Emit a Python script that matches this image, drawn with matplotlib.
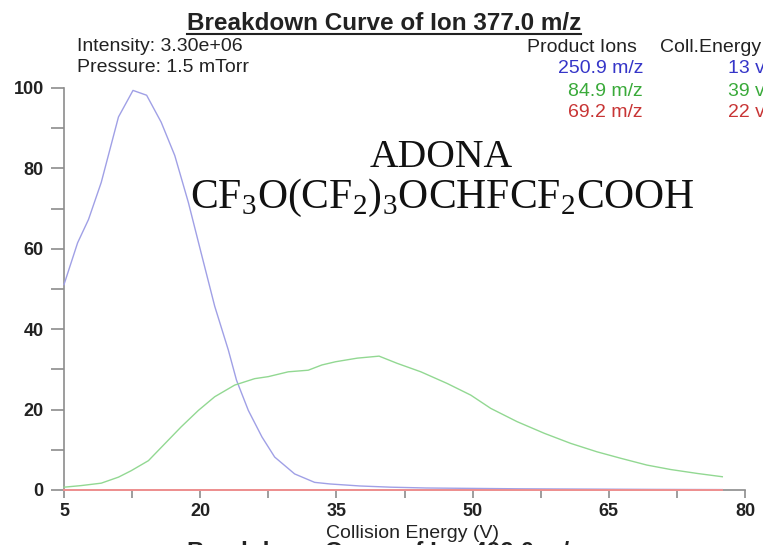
import numpy as np
import matplotlib
matplotlib.use('Agg')
from matplotlib import pyplot as plt
from matplotlib.lines import Line2D

plt.rcParams['font.family'] = ['Liberation Sans', 'DejaVu Sans']
plt.rcParams['mathtext.fontset'] = 'custom'
plt.rcParams['mathtext.rm'] = 'Liberation Serif'

# dados ---------------------------------------------------------

blue_ce = [5, 6.5, 7.7, 9.1, 11.0, 12.6, 14.1, 15.7, 17.2, 18.7, 20.1, 21.6, 23.1,
           24.0, 25.3, 26.8, 28.2, 30.4, 32.6, 34.3, 37.6, 41, 44.9, 50, 55, 60,
           65, 70, 77.5]
blue_int = [51.1, 61.5, 67.3, 76.5, 92.8, 99.4, 98.2, 91.5, 83.2, 71.5, 59.0, 45.7,
            34.8, 27.3, 19.8, 13.2, 8.2, 4.0, 1.9, 1.5, 1.0, 0.7, 0.5, 0.4, 0.3,
            0.25, 0.2, 0.15, 0.1]

green_ce = [5, 6.9, 9.1, 11.0, 12.4, 14.3, 16.1, 17.9, 19.8, 21.6, 23.8, 26.0, 27.5,
            29.7, 31.9, 33.4, 34.9, 37.3, 39.7, 41.7, 44.3, 47.2, 49.8, 52.0, 54.9,
            57.9, 60.8, 63.7, 66.3, 69.2, 71.8, 74.8, 77.5]
green_int = [0.7, 1.1, 1.7, 3.2, 4.8, 7.3, 11.5, 15.7, 19.8, 23.2, 26.1, 27.7, 28.2,
             29.4, 29.8, 31.1, 31.9, 32.8, 33.3, 31.5, 29.4, 26.5, 23.6, 20.3, 17.0,
             14.1, 11.6, 9.5, 7.9, 6.2, 5.1, 4.1, 3.3]

red_ce = [5, 77.5]
red_int = [0, 0]

ions = ['250.9 m/z', '84.9 m/z', '69.2 m/z']
energies = ['13 v', '39 v', '22 v']
line_colors = ['#a0a0e6', '#92d892', '#f09090']
text_colors = ['#3535c8', '#3aaa3a', '#c83535']

xticks = [5, 20, 35, 50, 65, 80]
yticks = [0, 20, 40, 60, 80, 100]

# figura ----------------------------------------

fig = plt.figure(figsize=(7.63, 5.45), dpi=100)
ax = fig.add_axes([64/763, 1 - 490/545, (745-64)/763, (490-88)/545])

ax.plot(blue_ce, blue_int, color=line_colors[0], lw=1.0, clip_on=False, zorder=3)
ax.plot(green_ce, green_int, color=line_colors[1], lw=1.0, clip_on=False, zorder=3)
ax.plot(red_ce, red_int, color=line_colors[2], lw=1.4, clip_on=False, zorder=4)

ax.set_xlim(5, 80)
ax.set_ylim(0, 100)
ax.set_xticks(xticks)
ax.set_xticks(np.arange(12.5, 80, 15), minor=True)
ax.set_yticks(yticks)
ax.set_yticks(np.arange(10, 100, 20), minor=True)

for s in ['top', 'right']:
    ax.spines[s].set_visible(False)
for s in ['left', 'bottom']:
    ax.spines[s].set_color('#8c8c8c')
    ax.spines[s].set_linewidth(1.2)

ax.tick_params(axis='both', which='both', colors='#8c8c8c', width=1.2,
               labelcolor='#222222', labelsize=13)
ax.tick_params(axis='y', which='both', length=9.5, pad=5)
ax.tick_params(axis='x', which='both', length=5.5, pad=4)
for lab in ax.get_xticklabels() + ax.get_yticklabels():
    lab.set_fontweight('bold')

ax.set_xlabel('Collision Energy (V)', fontsize=14, color='#222222')
ax.xaxis.set_label_coords((413-64)/681, -0.086)

def fy(py):
    return 1 - py/545

# titulo e textos ----------------------------------------

title = fig.text(384/763, fy(30), 'Breakdown Curve of Ion 377.0 m/z', ha='center',
                 va='baseline', fontsize=17.5, fontweight='bold', color='#222222')
fig.text(384/763, fy(559), 'Breakdown Curve of Ion 499.0 m/z', ha='center',
         va='baseline', fontsize=17.5, fontweight='bold', color='#222222')

fig.text(77/763, fy(51), 'Intensity: 3.30e+06', fontsize=14, color='#222222', va='baseline')
fig.text(77/763, fy(72), 'Pressure: 1.5 mTorr', fontsize=14, color='#222222', va='baseline')

fig.text(637/763, fy(52), 'Product Ions', fontsize=14, color='#222222', ha='right', va='baseline')
fig.text(660/763, fy(52), 'Coll.Energy', fontsize=14, color='#222222', ha='left', va='baseline')
for i, (ion, en) in enumerate(zip(ions, energies)):
    yb = [73, 95.5, 117][i]
    fig.text(643/763, fy(yb), ion, fontsize=14, color=text_colors[i], ha='right', va='baseline')
    fig.text(728/763, fy(yb), en, fontsize=14, color=text_colors[i], ha='left', va='baseline')

fig.text(441/763, fy(167), 'ADONA', fontsize=28.5, family='Liberation Serif',
         ha='center', va='baseline', color='#111111')
fig.text(442/763, fy(208),
         r'CF$_\mathrm{3}$O(CF$_\mathrm{2}$)$_\mathrm{3}$OCHFCF$_\mathrm{2}$COOH',
         fontsize=30, family='Liberation Serif', ha='center', va='baseline', color='#111111')

# sublinhado do titulo
fig.canvas.draw()
bb = title.get_window_extent(fig.canvas.get_renderer())
W, H = fig.bbox.width, fig.bbox.height
uy = fy(34)
fig.add_artist(Line2D([bb.x0/W, bb.x1/W], [uy, uy], color='#222222', lw=1.5,
                      transform=fig.transFigure))

plt.savefig('out.png', dpi=100)
